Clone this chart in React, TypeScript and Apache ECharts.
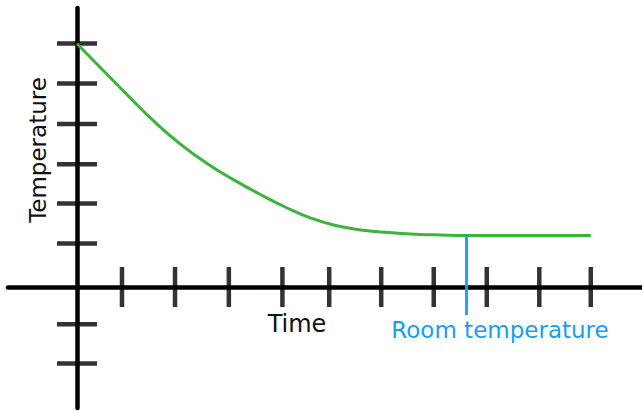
import React, { useEffect, useRef } from "react";
import * as echarts from "echarts";

// Cooling curve (schematic units)
const curveX = [0, 0.5, 1, 1.5, 2, 2.5, 3, 3.5, 4, 4.5, 5, 5.5, 6, 6.5, 7, 7.5, 8.7, 9.88];
const curveY = [6.08, 5.42, 4.76, 4.12, 3.56, 3.09, 2.69, 2.33, 2.0, 1.72, 1.53, 1.42, 1.36, 1.32, 1.3, 1.29, 1.29, 1.29];

// Hand-drawn tick positions
const timeTicks = [0.865, 1.885, 2.92, 3.95, 4.85, 5.85, 6.86, 7.88, 8.89, 9.88];
const tempTicks = [1.09, 2.09, 3.07, 4.075, 5.09, 6.09, -0.93, -1.91];

// Room temperature marker
const roomTempX = 7.49;
const roomTempY = 1.29;
const roomMarkerBottom = -0.7;

const labels = { x: "Time", y: "Temperature", room: "Room temperature" };

export default function App() {
  const ref = useRef<HTMLDivElement>(null);
  useEffect(() => {
    if (!ref.current) return;
    const chart = echarts.init(ref.current, undefined, { renderer: "svg" });
    const font = "DejaVu Sans";
    chart.setOption({
      animation: false,
      backgroundColor: "#ffffff",
      grid: { left: 8, right: 0, top: 8, bottom: 3, containLabel: false },
      xAxis: {
        type: "value",
        min: -1.327,
        max: 10.865,
        axisLine: { onZero: true, lineStyle: { color: "#000", width: 4.5 } },
        axisTick: { show: false },
        axisLabel: { show: false },
        splitLine: { show: false },
      },
      yAxis: {
        type: "value",
        min: -3.025,
        max: 6.975,
        axisLine: { onZero: true, lineStyle: { color: "#000", width: 4.5 } },
        axisTick: { show: false },
        axisLabel: { show: false },
        splitLine: { show: false },
      },
      series: [
        {
          type: "scatter",
          data: timeTicks.map((x) => [x, 0]),
          symbol: "rect",
          symbolSize: [4.5, 40],
          itemStyle: { color: "#000" },
          silent: true,
        },
        {
          type: "scatter",
          data: tempTicks.map((y) => [0, y]),
          symbol: "rect",
          symbolSize: [40, 4.5],
          itemStyle: { color: "#000" },
          silent: true,
        },
        {
          type: "line",
          data: curveX.map((x, i) => [x, curveY[i]]),
          smooth: 0.5,
          showSymbol: false,
          lineStyle: { color: "#3cb43c", width: 3 },
          itemStyle: { color: "#3cb43c" },
          z: 3,
        },
        {
          type: "line",
          data: [
            [roomTempX, roomTempY],
            [roomTempX, roomMarkerBottom],
          ],
          showSymbol: false,
          lineStyle: { color: "#1a9ef0", width: 2.8 },
          itemStyle: { color: "#1a9ef0" },
          z: 4,
        },
      ],
      graphic: [
        {
          type: "text",
          x: 37.5,
          y: 150,
          rotation: Math.PI / 2,
          style: {
            text: labels.y,
            fontFamily: font,
            fontSize: 23,
            fill: "#111",
            textAlign: "center",
            textVerticalAlign: "middle",
          },
        },
        {
          type: "text",
          x: 297,
          y: 324,
          style: {
            text: labels.x,
            fontFamily: font,
            fontSize: 24,
            fill: "#111",
            textAlign: "center",
            textVerticalAlign: "middle",
          },
        },
        {
          type: "text",
          x: 500,
          y: 330,
          style: {
            text: labels.room,
            fontFamily: font,
            fontSize: 23,
            fill: "#1a9ef0",
            textAlign: "center",
            textVerticalAlign: "middle",
          },
        },
      ],
    });
    return () => chart.dispose();
  }, []);
  return (
    <div
      ref={ref}
      style={{ position: "fixed", left: 0, top: 0, width: 642, height: 411 }}
    />
  );
}
